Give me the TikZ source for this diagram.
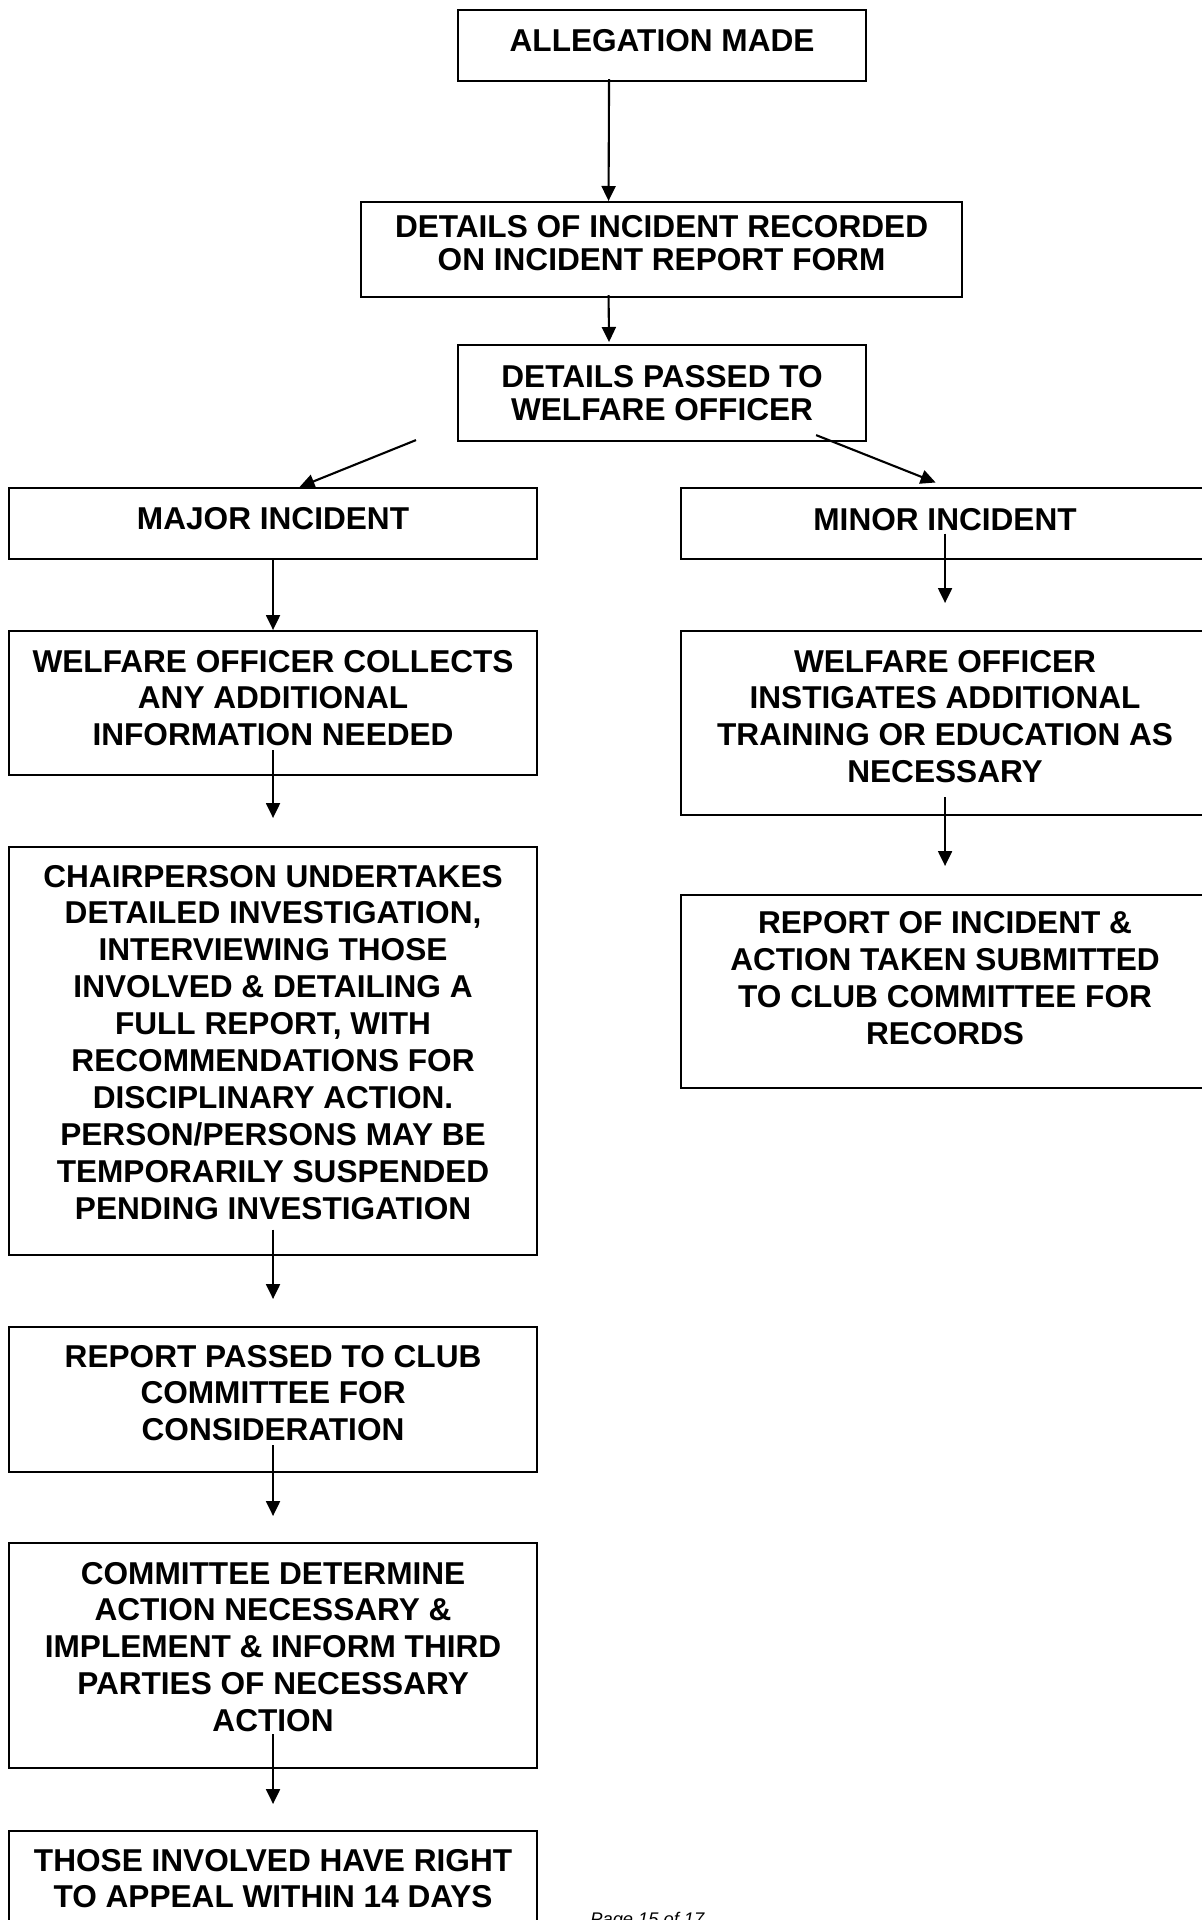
\documentclass[tikz,border=0pt]{standalone}
\usepackage{fontspec}
\setmainfont{Liberation Sans}
\usetikzlibrary{arrows.meta}
\tikzset{>={Triangle[length=7.5pt,width=7pt]}}
\newcommand{\stagetext}[4][20.5pt]{\parbox[t][#3][t]{#2}{\centering\rule{0pt}{#1}#4}}
\newcommand{\closelines}{\fontsize{15.8pt}{16.5pt}\selectfont}

\begin{document}
\begin{tikzpicture}[x=0.5pt,y=-0.5pt,
  stage/.style={draw,line width=1.05pt,inner sep=0pt,anchor=north west,
    font=\bfseries\fontsize{15.8pt}{18.45pt}\selectfont},
  flow/.style={->,line width=1.05pt}]
  \useasboundingbox (0,0) rectangle (1201,1920);

  % common start
  \node[stage] (alleg)  at (457,9)   {\stagetext{204pt}{35.5pt}{ALLEGATION MADE}};
  \node[stage] (record) at (360,201) {\stagetext[17.5pt]{300.5pt}{47.5pt}{\closelines DETAILS OF INCIDENT RECORDED\\ON INCIDENT REPORT FORM}};
  \node[stage] (passed) at (457,344) {\stagetext[21.3pt]{204pt}{48pt}{\closelines DETAILS PASSED TO\\WELFARE OFFICER}};

  % major incident
  \node[stage] (major)   at (8,487)   {\stagetext{264pt}{35.5pt}{MAJOR INCIDENT}};
  \node[stage] (collect) at (8,630)   {\stagetext{264pt}{72pt}{WELFARE OFFICER COLLECTS\\ANY ADDITIONAL\\INFORMATION NEEDED}};
  \node[stage] (chair)   at (8,846)   {\stagetext[20pt]{264pt}{204pt}{CHAIRPERSON UNDERTAKES\\DETAILED INVESTIGATION,\\INTERVIEWING THOSE\\INVOLVED \& DETAILING A\\FULL REPORT, WITH\\RECOMMENDATIONS FOR\\DISCIPLINARY ACTION.\\PERSON/PERSONS MAY BE\\TEMPORARILY SUSPENDED\\PENDING INVESTIGATION}};
  \node[stage] (passrep) at (8,1326)  {\stagetext[20pt]{264pt}{72.5pt}{REPORT PASSED TO CLUB\\COMMITTEE FOR\\CONSIDERATION}};
  \node[stage] (decide)  at (8,1542)  {\stagetext{264pt}{112.5pt}{COMMITTEE DETERMINE\\ACTION NECESSARY \&\\IMPLEMENT \& INFORM THIRD\\PARTIES OF NECESSARY\\ACTION}};
  \node[stage] (appeal)  at (8,1830)  {\stagetext[20pt]{264pt}{65pt}{THOSE INVOLVED HAVE RIGHT\\TO APPEAL WITHIN 14 DAYS}};

  % minor incident
  \node[stage] (minor)  at (680,487) {\stagetext[21.2pt]{264pt}{35.5pt}{MINOR INCIDENT}};
  \node[stage] (instig) at (680,630) {\stagetext{264pt}{92pt}{WELFARE OFFICER\\INSTIGATES ADDITIONAL\\TRAINING OR EDUCATION AS\\NECESSARY}};
  \node[stage] (recrep) at (680,894) {\stagetext[19.3pt]{264pt}{96.5pt}{REPORT OF INCIDENT \&\\ACTION TAKEN SUBMITTED\\TO CLUB COMMITTEE FOR\\RECORDS}};

  \node[anchor=base west,inner sep=0pt,font=\itshape\fontsize{9.15pt}{11pt}\selectfont] (footer) at (590,1925) {Page 15 of 17};

  % connectors
  \draw[flow] ([xshift=-26.5pt,yshift=1.5pt]alleg.south) -- ([xshift=-26.5pt]record.north);
  \draw[flow] ([xshift=-26.5pt,yshift=1.5pt]record.south) -- ([xshift=-26.5pt,yshift=1pt]passed.north);
  \draw[flow] ([xshift=-20.5pt,yshift=1pt]passed.south west) -- ([xshift=13.25pt]major.north);
  \draw[flow] ([xshift=-25.5pt,yshift=3.5pt]passed.south east) -- ([xshift=-4.7pt,yshift=2.25pt]minor.north);

  \draw[flow] (major.south) -- (collect.north);
  \draw[flow] ([yshift=13pt]collect.south) -- ([yshift=14pt]chair.north);
  \draw[flow] ([yshift=13.25pt]chair.south) -- ([yshift=13.5pt]passrep.north);
  \draw[flow] ([yshift=14pt]passrep.south) -- ([yshift=13pt]decide.north);
  \draw[flow] ([yshift=17.5pt]decide.south) -- ([yshift=13pt]appeal.north);

  \draw[flow] ([yshift=13.2pt]minor.south) -- ([yshift=13.5pt]instig.north);
  \draw[flow] ([yshift=9.5pt]instig.south) -- ([yshift=14pt]recrep.north);
\end{tikzpicture}
\end{document}
